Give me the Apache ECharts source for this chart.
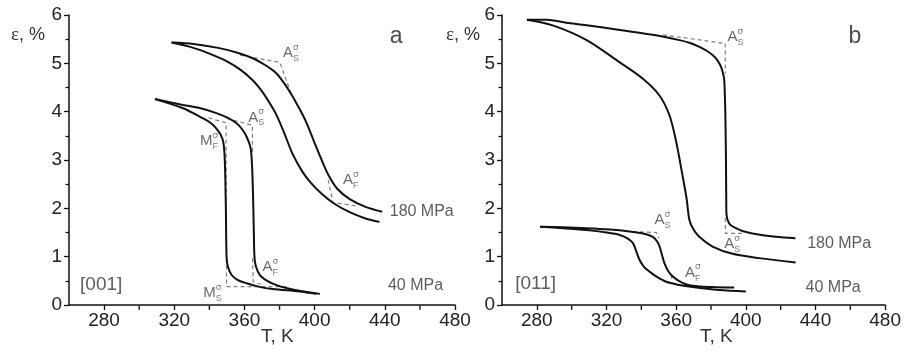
<!DOCTYPE html>
<html><head><meta charset="utf-8">
<script src="https://cdn.jsdelivr.net/npm/echarts@6/dist/echarts.min.js"></script>
<style>html,body{margin:0;padding:0;background:#fff}#c{width:904px;height:350px}</style>
</head><body><div id="c"></div>
<script>
// ---------- axis ticks ----------
const xMajorTicks = [280, 320, 360, 400, 440, 480];
const xMinorTicks = [300, 340, 380, 420, 460];

// ---------- panel a [001] ----------
const a180Heat = [[318.5,5.43],[331,5.40],[345,5.32],[356,5.22],[365,5.10],[372,4.96],[378,4.80],[382,4.62],[386,4.40],[390,4.15],[395,3.80],[400,3.35],[404,3.00],[408,2.68],[413,2.40],[420,2.19],[429,2.03],[438.5,1.93]];
const a180Cool = [[318.5,5.43],[330,5.33],[340,5.20],[350,5.04],[358,4.86],[365,4.64],[370,4.42],[374,4.20],[378,3.95],[382,3.62],[387.5,3.12],[393,2.76],[398,2.52],[404,2.30],[411,2.10],[420,1.92],[429,1.79],[437,1.72]];
const a40Heat = [[309,4.26],[325,4.14],[335,4.07],[344,3.97],[350,3.88],[355.5,3.76],[359,3.62],[361.5,3.46],[363.5,3.25],[364.3,2.9],[364.8,2.4],[365.3,1.6],[365.7,1.0],[366.5,0.80],[368.8,0.62],[373,0.50],[378.3,0.41],[385,0.34],[392,0.29],[403,0.23]];
const a40Cool = [[309,4.26],[325,4.07],[336.5,3.86],[341,3.76],[344,3.65],[346.5,3.52],[348,3.36],[348.8,3.0],[349.4,2.0],[349.8,1.0],[350.5,0.80],[352.7,0.62],[356,0.52],[361.2,0.45],[368,0.38],[376,0.33],[391.5,0.28],[401,0.23]];
const a180AsDash = [[357.4,5.17],[380.2,5.02],[386.8,4.35]];
const a180AfDash = [[407.7,2.59],[410.5,2.12],[423.8,2.05]];
const a40AsDash = [[350,3.86],[364.5,3.72],[364.6,3.10]];
const a40MfDash = [[339.5,3.87],[349.5,3.77],[349.8,0.38],[384,0.38]];
const a40AfDash = [[364.6,0.97],[365,0.48],[370.5,0.41]];
const annoA = [[382.0,5.21,'A','S'],[416.2,2.59,'A','F'],[334.6,3.40,'M','F'],[362.1,3.88,'A','S'],[370.3,0.79,'A','F'],[336.5,0.25,'M','S']];
const stressA = [[442.8,1.93,'180 MPa'],[441.8,0.41,'40 MPa']];
const orientA = [[266.3,0.41,'[001]']];
const letterA = [[442.8,5.55,'a']];

// ---------- panel b [011] ----------
const b180Heat = [[274.3,5.90],[285.7,5.90],[297,5.84],[308.6,5.79],[327.6,5.69],[346.6,5.59],[361.9,5.48],[368,5.42],[373.3,5.34],[377.5,5.26],[380.9,5.17],[383.5,5.07],[385.7,4.93],[387,4.78],[387.6,4.66],[388.2,4.03],[388.6,3.0],[388.8,1.97],[389.0,1.85],[389.5,1.76],[391,1.66],[394.3,1.59],[398,1.53],[403.8,1.48],[417.1,1.41],[428.5,1.38]];
const b180Cool = [[274.3,5.90],[289.5,5.78],[308.6,5.48],[327.6,5.02],[340.9,4.68],[350.5,4.33],[356.2,3.92],[360,3.38],[363.8,2.65],[366,2.2],[367.6,1.76],[370,1.56],[373.3,1.41],[380.9,1.21],[392.4,1.06],[407.6,0.97],[428.6,0.88]];
const b40Heat = [[281.9,1.62],[295,1.61],[308.6,1.59],[322,1.56],[333.3,1.52],[341,1.48],[346.6,1.41],[349,1.32],[350.5,1.21],[352,1.02],[353.3,0.86],[355.5,0.70],[358.1,0.59],[362,0.49],[367.6,0.41],[380.9,0.37],[393.3,0.36]];
const b40Cool = [[281.9,1.62],[295,1.59],[308.6,1.55],[320,1.50],[327.6,1.45],[332,1.38],[335.2,1.28],[337,1.12],[339,0.93],[341.5,0.79],[344.7,0.69],[349,0.58],[354.3,0.48],[361,0.42],[369.5,0.37],[384.7,0.31],[400,0.28]];
const b180AsDash = [[352.4,5.59],[388.2,5.41],[388.2,4.79]];
const b180AsLowDash = [[388.2,1.80],[388.3,1.48],[398,1.48]];
const b40AsDash = [[335.2,1.52],[348.6,1.50],[350,1.38]];
const b40AfDash = [[357.1,0.62],[357.7,0.52]];
const annoB = [[389.5,5.55,'A','S'],[387.6,1.26,'A','S'],[347.6,1.76,'A','S'],[365.1,0.67,'A','F']];
const stressB = [[435.2,1.28,'180 MPa'],[434.3,0.35,'40 MPa']];
const orientB = [[267.6,0.43,'[011]']];
const letterB = [[459,5.55,'b']];

const FONT = 'Liberation Sans, Arial, sans-serif';
const GRID_H = 290;
const chart = echarts.init(document.getElementById('c'), null, {renderer: 'canvas'});

function xAxis(gi) {
  return {type:'value', gridIndex:gi, position:'bottom', min:260, max:480,
     axisLine:{show:true, onZero:false, lineStyle:{color:'#111', width:1.5}},
     axisTick:{show:true, customValues:xMajorTicks, length:5, lineStyle:{color:'#111', width:1.3}},
     axisLabel:{show:true, customValues:xMajorTicks, margin:6, color:'#222', fontSize:19, fontFamily:FONT},
     splitLine:{show:false}};
}
function yAxis(gi) {
  return {type:'value', gridIndex:gi, min:0, max:6, interval:1,
    axisLine:{show:true, onZero:false, lineStyle:{color:'#111', width:1.5}},
    axisTick:{show:true, length:5, lineStyle:{color:'#111', width:1.3}},
    minorTick:{show:true, splitNumber:2, length:3.5, lineStyle:{color:'#111', width:1.3}},
    axisLabel:{margin:7, color:'#222', fontSize:19, fontFamily:FONT},
    splitLine:{show:false}};
}
// small x-axis minor ticks, placed through the axis scale, hanging below the axis line
function minorTicks(gi) {
  return {type:'scatter', xAxisIndex:gi, yAxisIndex:gi, clip:false, silent:true, z:10,
    symbol:'rect', symbolSize:[1.4, 4], symbolOffset:[0, 2.8],
    itemStyle:{color:'#111', opacity:1},
    data: xMinorTicks.map(v => [v, 0])};
}
function curve(data, gi) {
  return {type:'line', xAxisIndex:gi, yAxisIndex:gi, data, smooth:0.3,
    showSymbol:false, symbol:'none', clip:false, silent:true,
    lineStyle:{color:'#111', width:2}};
}
function dash(data, gi) {
  return {type:'line', xAxisIndex:gi, yAxisIndex:gi, data, smooth:false,
    showSymbol:false, symbol:'none', clip:false, silent:true, z:1,
    lineStyle:{color:'#808080', width:1.2, type:[4,3]}};
}
function textSeries(arr, gi, fontSize, color, family) {
  return {type:'scatter', xAxisIndex:gi, yAxisIndex:gi, symbolSize:0, clip:false, silent:true,
    data: arr.map(d => ({value:[d[0], d[1]], name:d[2]})),
    label:{show:true, position:'right', distance:0, formatter:p => p.name,
      color:color, fontSize:fontSize, fontFamily:family || FONT}};
}
function annoSeries(arr, gi) {
  const rich = {
    m:{fontSize:15, lineHeight:20, color:'#444', fontFamily:FONT},
    h:{fontSize:15, lineHeight:20, color:'rgba(0,0,0,0)', fontFamily:FONT},
    b:{fontSize:9, lineHeight:11, verticalAlign:'bottom', color:'#555', fontFamily:FONT},
    t:{fontSize:9, lineHeight:11, verticalAlign:'top', color:'#555', fontFamily:'DejaVu Sans'}
  };
  const base = {type:'scatter', xAxisIndex:gi, yAxisIndex:gi, symbolSize:0, clip:false, silent:true,
    data: arr.map(d => ({value:[d[0], d[1]], name:d[2], sub:d[3]}))};
  return [
    Object.assign({}, base, {label:{show:true, position:'right', distance:0, rich,
      formatter:p => '{m|' + p.data.name + '}{b|' + p.data.sub + '}'}}),
    Object.assign({}, base, {label:{show:true, position:'right', distance:0, rich,
      formatter:p => '{h|' + p.data.name + '}{t|σ}'}})
  ];
}

const series = [
  minorTicks(0), minorTicks(1),
  curve(a180Heat,0), curve(a180Cool,0), curve(a40Heat,0), curve(a40Cool,0),
  dash(a180AsDash,0), dash(a180AfDash,0), dash(a40AsDash,0), dash(a40MfDash,0), dash(a40AfDash,0),
  curve(b180Heat,1), curve(b180Cool,1), curve(b40Heat,1), curve(b40Cool,1),
  dash(b180AsDash,1), dash(b180AsLowDash,1), dash(b40AsDash,1), dash(b40AfDash,1),
  ...annoSeries(annoA,0), ...annoSeries(annoB,1),
  textSeries(stressA,0,16,'#333'), textSeries(stressB,1,16,'#333'),
  textSeries(orientA,0,19,'#333'), textSeries(orientB,1,19,'#333'),
  textSeries(letterA,0,23,'#222'), textSeries(letterB,1,23,'#222')
];

const epsRich = {e:{fontSize:19, fontFamily:'Liberation Serif', fill:'#333'}, n:{fontSize:18, fontFamily:FONT, fill:'#333'}};
chart.setOption({
  animation:false,
  backgroundColor:'#fff',
  textStyle:{fontFamily:FONT},
  grid:[
    {left:69, top:15, width:386, height:GRID_H},
    {left:502, top:15, width:385, height:GRID_H}
  ],
  xAxis:[xAxis(0), xAxis(1)],
  yAxis:[yAxis(0), yAxis(1)],
  series,
  graphic:[
    {type:'text', left:11, top:26, style:{text:'{e|ε}{n|, %}', rich:epsRich}},
    {type:'text', left:446, top:26, style:{text:'{e|ε}{n|, %}', rich:epsRich}},
    {type:'text', left:261, top:327, style:{text:'T, K', fontSize:19, fontFamily:FONT, fill:'#333'}},
    {type:'text', left:700, top:327, style:{text:'T, K', fontSize:19, fontFamily:FONT, fill:'#333'}}
  ]
});
</script>
</body></html>
